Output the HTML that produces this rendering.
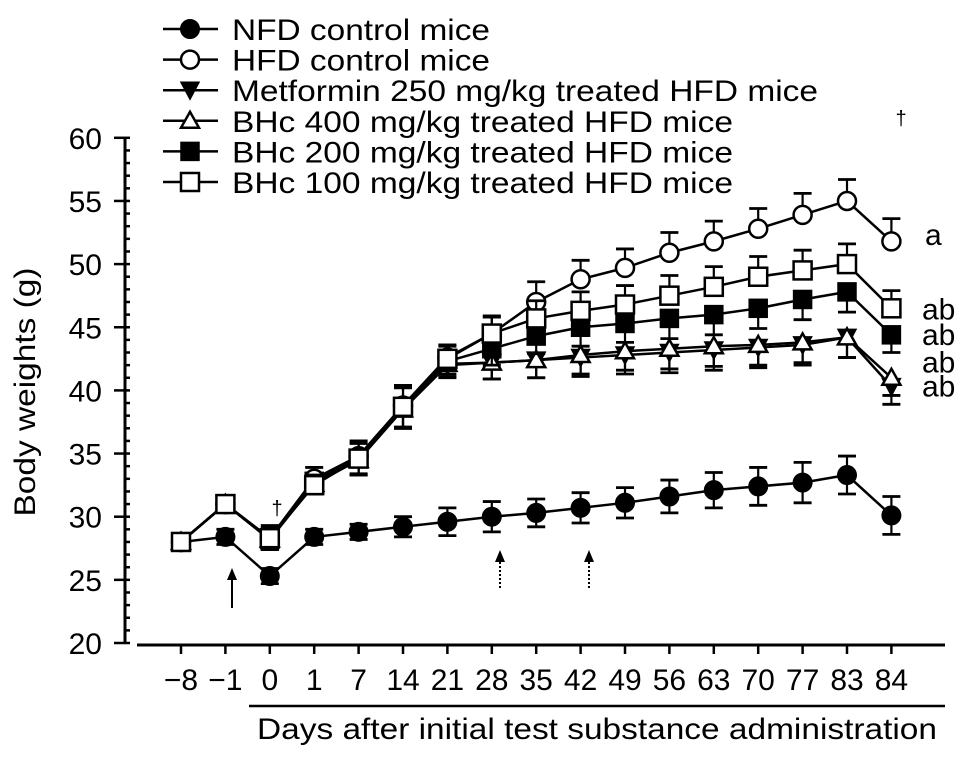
<!DOCTYPE html>
<html><head><meta charset="utf-8"><style>
html,body{margin:0;padding:0;background:#fff;}
svg{display:block;font-family:"Liberation Sans",Arial,sans-serif;}
</style></head><body>
<svg id="chart" width="969" height="761" viewBox="0 0 969 761"></svg>
<script>
const categories=["\u22128","\u22121","0","1","7","14","21","28","35","42","49","56","63","70","77","83","84"];
const nfdValues=[28,28.4,25.3,28.4,28.8,29.2,29.6,30,30.3,30.7,31.1,31.6,32.1,32.4,32.7,33.3,30.1];
const hfdValues=[28,31,28.3,33,34.8,38.8,42.6,44.5,47,48.8,49.7,50.9,51.8,52.8,53.9,55,51.8];
const metValues=[28,31,28.2,32.6,34.5,38.5,42,42.2,42.4,42.6,42.8,43,43.2,43.4,43.6,44.2,40.3];
const bhc400Values=[28,31,28.2,32.6,34.5,38.5,42.1,42.2,42.4,42.8,43.1,43.3,43.5,43.6,43.8,44.2,41];
const bhc200Values=[28,31,28.2,32.8,34.6,38.6,42.3,43.3,44.3,45,45.3,45.7,46,46.5,47.2,47.8,44.4];
const bhc100Values=[28,31,28.3,32.5,34.6,38.7,42.5,44.5,45.7,46.3,46.8,47.5,48.2,49,49.5,50,46.5];
const nfdErr=[0.6,0.6,0.6,0.6,0.6,0.8,1.1,1.2,1.1,1.2,1.2,1.3,1.4,1.5,1.6,1.5,1.5];
const hfdErr=[0.6,0.6,1,0.9,1.2,1.6,1,1.4,1.6,1.5,1.5,1.6,1.6,1.6,1.7,1.7,1.8];
const otherErr=[0.6,0.6,0.8,0.8,1.2,1.5,1,1.3,1.4,1.5,1.5,1.6,1.6,1.6,1.6,1.6,1.4];
const yTicks=[20,25,30,35,40,45,50,55,60];
const legendLabels=["NFD control mice","HFD control mice","Metformin 250 mg/kg treated HFD mice","BHc 400 mg/kg treated HFD mice","BHc 200 mg/kg treated HFD mice","BHc 100 mg/kg treated HFD mice"];
const legendWidths=[258,258,586,501,501,501];
const sigLabels=["a","ab","ab","ab","ab"];
const sigValues=[52.3,46.4,44.4,42.2,40.3];

const NS="http://www.w3.org/2000/svg";
const svg=document.getElementById('chart');
function xS(i){return 181+44.4*i;}
function yS(v){return 643-(v-20)*12.63;}
function mk(tag,attrs,parent){const e=document.createElementNS(NS,tag);for(const k in attrs)e.setAttribute(k,attrs[k]);(parent||svg).appendChild(e);return e;}

const yAxis=mk('line',{x1:125,y1:yS(60),x2:125,y2:yS(20),stroke:'#000','stroke-width':3});


for(let v=20;v<=60;v++){
  const major=v%5===0;
  const t=mk('line',{x1:major?114:125,y1:yS(v),x2:130,y2:yS(v),stroke:'#000','stroke-width':2.5});
  
  
}
yTicks.forEach(v=>{
  const t=mk('text',{x:102,y:yS(v)+11,'text-anchor':'end','font-size':30});
  t.textContent=v;
  
  
});
const yt=mk('text',{transform:'translate(35,392) rotate(-90)','text-anchor':'middle','font-size':30,textLength:249,lengthAdjust:'spacingAndGlyphs'});
yt.textContent='Body weights (g)';



const xAxis=mk('line',{x1:137,y1:645,x2:945,y2:645,stroke:'#000','stroke-width':3});


categories.forEach((c,i)=>{
  const t=mk('line',{x1:xS(i),y1:645,x2:xS(i),y2:654,stroke:'#000','stroke-width':2.5});
  
  
  const l=mk('text',{x:xS(i),y:690,'text-anchor':'middle','font-size':30});
  l.textContent=c;
  
  
});
const xl=mk('line',{x1:249,y1:706,x2:945,y2:706,stroke:'#000','stroke-width':2.5});


const xt=mk('text',{x:257,y:739,'font-size':30,textLength:680,lengthAdjust:'spacingAndGlyphs'});
xt.textContent='Days after initial test substance administration';



function marker(type,x,y,g){
  const s=9;
  if(type==='fcirc')return mk('circle',{cx:x,cy:y,r:s,fill:'#000',stroke:'#000','stroke-width':2},g);
  if(type==='ocirc')return mk('circle',{cx:x,cy:y,r:s,fill:'#fff',stroke:'#000','stroke-width':2.5},g);
  if(type==='dtri')return mk('polygon',{points:`${x-s},${y-s+1} ${x+s},${y-s+1} ${x},${y+s}`,fill:'#000',stroke:'#000','stroke-width':1.5},g);
  if(type==='otri')return mk('polygon',{points:`${x-s},${y+s-2} ${x+s},${y+s-2} ${x},${y-s}`,fill:'#fff',stroke:'#000','stroke-width':2.5},g);
  if(type==='fsq')return mk('rect',{x:x-s,y:y-s,width:2*s,height:2*s,fill:'#000',stroke:'#000','stroke-width':1.5},g);
  return mk('rect',{x:x-s,y:y-s,width:2*s,height:2*s,fill:'#fff',stroke:'#000','stroke-width':2.5},g);
}
const series=[
 {name:'series-nfd',vals:nfdValues,err:nfdErr,m:'fcirc',down:false,both:true},
 {name:'series-metformin',vals:metValues,err:otherErr,m:'dtri',down:true},
 {name:'series-bhc400',vals:bhc400Values,err:otherErr,m:'otri',down:true},
 {name:'series-bhc200',vals:bhc200Values,err:otherErr,m:'fsq',down:true},
 {name:'series-hfd',vals:hfdValues,err:hfdErr,m:'ocirc',down:false},
 {name:'series-bhc100',vals:bhc100Values,err:otherErr,m:'osq',down:false}
];
series.forEach(s=>{
  const g=mk('g',{});
  
  
  s.vals.forEach((v,i)=>{
    const y=yS(v),e=s.err[i]*12.63,x=xS(i);
    const ys=s.both?[y-e,y+e]:(s.down?[y+e]:[y-e]);
    ys.forEach(yy=>{
      mk('line',{x1:x,y1:y,x2:x,y2:yy,stroke:'#000','stroke-width':2.2},g);
      mk('line',{x1:x-9,y1:yy,x2:x+9,y2:yy,stroke:'#000','stroke-width':2.8},g);
    });
  });
  mk('polyline',{points:s.vals.map((v,i)=>xS(i)+','+yS(v)).join(' '),fill:'none',stroke:'#000','stroke-width':2.5},g);
  s.vals.forEach((v,i)=>{
    const p=marker(s.m,xS(i),yS(v),g);
    
    
  });
});
const legTypes=['fcirc','ocirc','dtri','otri','fsq','osq'];
legendLabels.forEach((lab,k)=>{
  const y=29+30.6*k;
  const g=mk('g',{});
  
  
  mk('line',{x1:163,y1:y,x2:218,y2:y,stroke:'#000','stroke-width':2.5},g);
  marker(legTypes[k],190,y,g);
  const t=mk('text',{x:232,y:y+11,'font-size':30,textLength:legendWidths[k],lengthAdjust:'spacingAndGlyphs'},g);
  t.textContent=lab;
});
sigLabels.forEach((s,k)=>{
  const t=mk('text',{x:k===0?925:922,y:yS(sigValues[k])+10,'font-size':30});
  t.textContent=s;
  
  
});
[[277,515],[901,125]].forEach(p=>{
  const t=mk('text',{x:p[0],y:p[1],'font-size':20,'text-anchor':'middle'});
  t.textContent='\u2020';
  
  
});
[[232,608,false],[500,588,true],[589,588,true]].forEach(a=>{
  const x=a[0],g=mk('g',{});
  
  
  mk('line',{x1:x,y1:a[1],x2:x,y2:a[1]-(a[2]?27:28),stroke:'#000','stroke-width':2,'stroke-dasharray':a[2]?'2,2':''},g);
  const ty=a[1]-(a[2]?38:40);
  mk('polygon',{points:`${x-5},${ty+12} ${x+5},${ty+12} ${x},${ty}`,fill:'#000'},g);
});
</script>
</body></html>
